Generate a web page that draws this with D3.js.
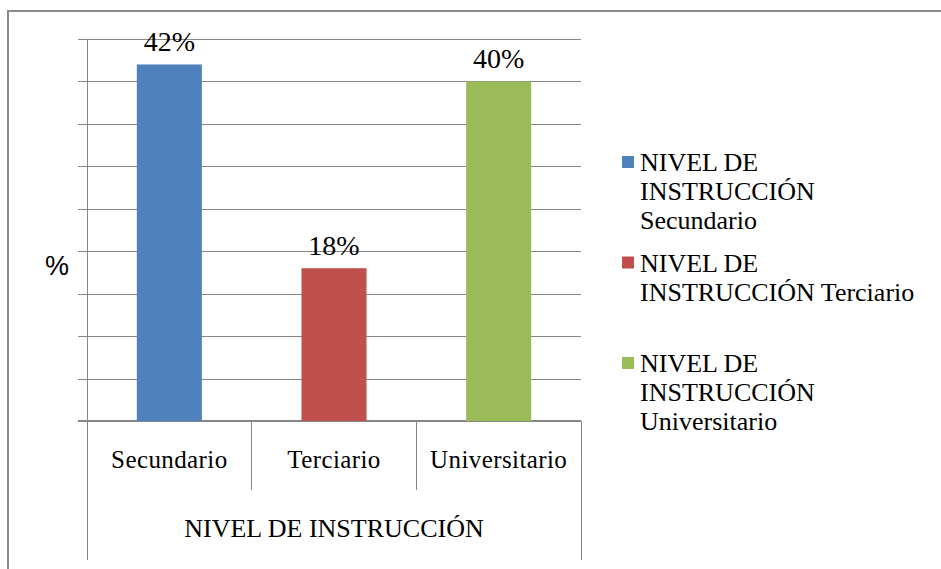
<!DOCTYPE html>
<html>
<head>
<meta charset="utf-8">
<script src="https://cdn.jsdelivr.net/npm/d3@7"></script>
</head>
<body style="margin:0;background:#fff">
<svg id="chart" width="941" height="569" style="display:block;font-family:'Liberation Serif','Times New Roman',Tinos,serif"></svg>
<script>
// Nivel de instrucción (%)
const categories = ["Secundario", "Terciario", "Universitario"];
const values = [42, 18, 40];
const valueLabels = ["42%", "18%", "40%"];
const seriesNames = [
  ["NIVEL DE", "INSTRUCCIÓN", "Secundario"],
  ["NIVEL DE", "INSTRUCCIÓN Terciario"],
  ["NIVEL DE", "INSTRUCCIÓN", "Universitario"]
];
const colors = ["#4F81BD", "#C0504D", "#9BBB59"];
const yTicks = [0, 5, 10, 15, 20, 25, 30, 35, 40, 45];
const axisTitle = "NIVEL DE INSTRUCCIÓN";

const svg = d3.select("#chart");
const gridColor = "#868686";
const SERIF = "\"Liberation Serif\", \"Times New Roman\", Tinos, serif";
const SANS = "\"Liberation Sans\", Arial, sans-serif";

// chart frame (top and left edges visible)
svg.append("path")
  .attr("d", "M8,569 V11 H941")
  .attr("fill", "none")
  .attr("stroke", "#8a8a8a")
  .attr("stroke-width", 2);

const plot = { left: 87, right: 581, top: 39, bottom: 421 };

const x = d3.scaleBand().domain(categories).range([plot.left, plot.right]).padding(0);
const y = d3.scaleLinear().domain([0, 45]).range([plot.bottom, plot.top]);

// gridlines with outside tick marks
const yAxis = d3.axisLeft(y).tickValues(yTicks)
  .tickSize(-(plot.right - plot.left))
  .tickFormat("");
const gy = svg.append("g").attr("transform", `translate(${plot.left},0)`).call(yAxis);
gy.select(".domain").remove();
gy.selectAll(".tick line")
  .attr("x1", -9)
  .attr("stroke", gridColor)
  .attr("stroke-width", 1)
  .attr("shape-rendering", "crispEdges");

// vertical axis line
svg.append("line")
  .attr("x1", plot.left).attr("x2", plot.left)
  .attr("y1", plot.top).attr("y2", 560)
  .attr("stroke", gridColor).attr("shape-rendering", "crispEdges");

// horizontal axis line
svg.append("line")
  .attr("x1", plot.left - 9).attr("x2", plot.right)
  .attr("y1", plot.bottom).attr("y2", plot.bottom)
  .attr("stroke", gridColor).attr("stroke-width", 1.5).attr("shape-rendering", "crispEdges");

// category dividers below the axis
const dividers = categories.slice(1).map(c => x(c));
svg.selectAll("line.div").data(dividers).enter().append("line")
  .attr("class", "div")
  .attr("x1", d => d).attr("x2", d => d)
  .attr("y1", plot.bottom).attr("y2", 490)
  .attr("stroke", gridColor).attr("shape-rendering", "crispEdges");
svg.append("line")
  .attr("x1", plot.right).attr("x2", plot.right)
  .attr("y1", plot.bottom).attr("y2", 560)
  .attr("stroke", gridColor).attr("shape-rendering", "crispEdges");

// bars
const barW = x.bandwidth() * 0.395;
svg.selectAll("rect.bar").data(values).enter().append("rect")
  .attr("class", "bar")
  .attr("x", (d, i) => x(categories[i]) + (x.bandwidth() - barW) / 2)
  .attr("width", barW)
  .attr("y", d => y(d))
  .attr("height", d => y(0) - y(d))
  .attr("fill", (d, i) => colors[i]);

// value labels
svg.selectAll("text.val").data(values).enter().append("text")
  .attr("class", "val")
  .attr("x", (d, i) => x(categories[i]) + x.bandwidth() / 2)
  .attr("y", d => y(d) - 13)
  .attr("text-anchor", "middle")
  .style("font-family", SERIF)
  .style("font-size", "28px")
  .style("fill", "#000")
  .text((d, i) => valueLabels[i]);

// category labels
svg.selectAll("text.cat").data(categories).enter().append("text")
  .attr("class", "cat")
  .attr("x", d => x(d) + x.bandwidth() / 2)
  .attr("y", 468)
  .attr("text-anchor", "middle")
  .style("font-family", SERIF)
  .style("font-size", "25px")
  .style("letter-spacing", "0.4px")
  .style("fill", "#000")
  .text(d => d);

// axis titles
svg.append("text")
  .attr("x", (plot.left + plot.right) / 2)
  .attr("y", 537)
  .attr("text-anchor", "middle")
  .style("font-family", SERIF)
  .style("font-size", "26px")
  .style("fill", "#000")
  .text(axisTitle);

svg.append("text")
  .attr("x", 57)
  .attr("y", 275)
  .attr("text-anchor", "middle")
  .style("font-family", SANS)
  .style("font-size", "27px")
  .style("fill", "#000")
  .text("%");

// legend
const legend = svg.append("g");
const entries = legend.selectAll("g.entry").data(seriesNames).enter().append("g")
  .attr("class", "entry")
  .attr("transform", (d, i) => `translate(622,${171 + i * 100.5})`);
entries.append("rect")
  .attr("x", 0).attr("y", -15)
  .attr("width", 12).attr("height", 12)
  .attr("fill", (d, i) => colors[i]);
entries.each(function(lines) {
  d3.select(this).selectAll("text").data(lines).enter().append("text")
    .attr("x", 18)
    .attr("y", (d, j) => j * 29)
    .style("font-family", SERIF)
    .style("font-size", "26px")
    .style("fill", "#000")
    .text(d => d);
});
</script>
</body>
</html>
